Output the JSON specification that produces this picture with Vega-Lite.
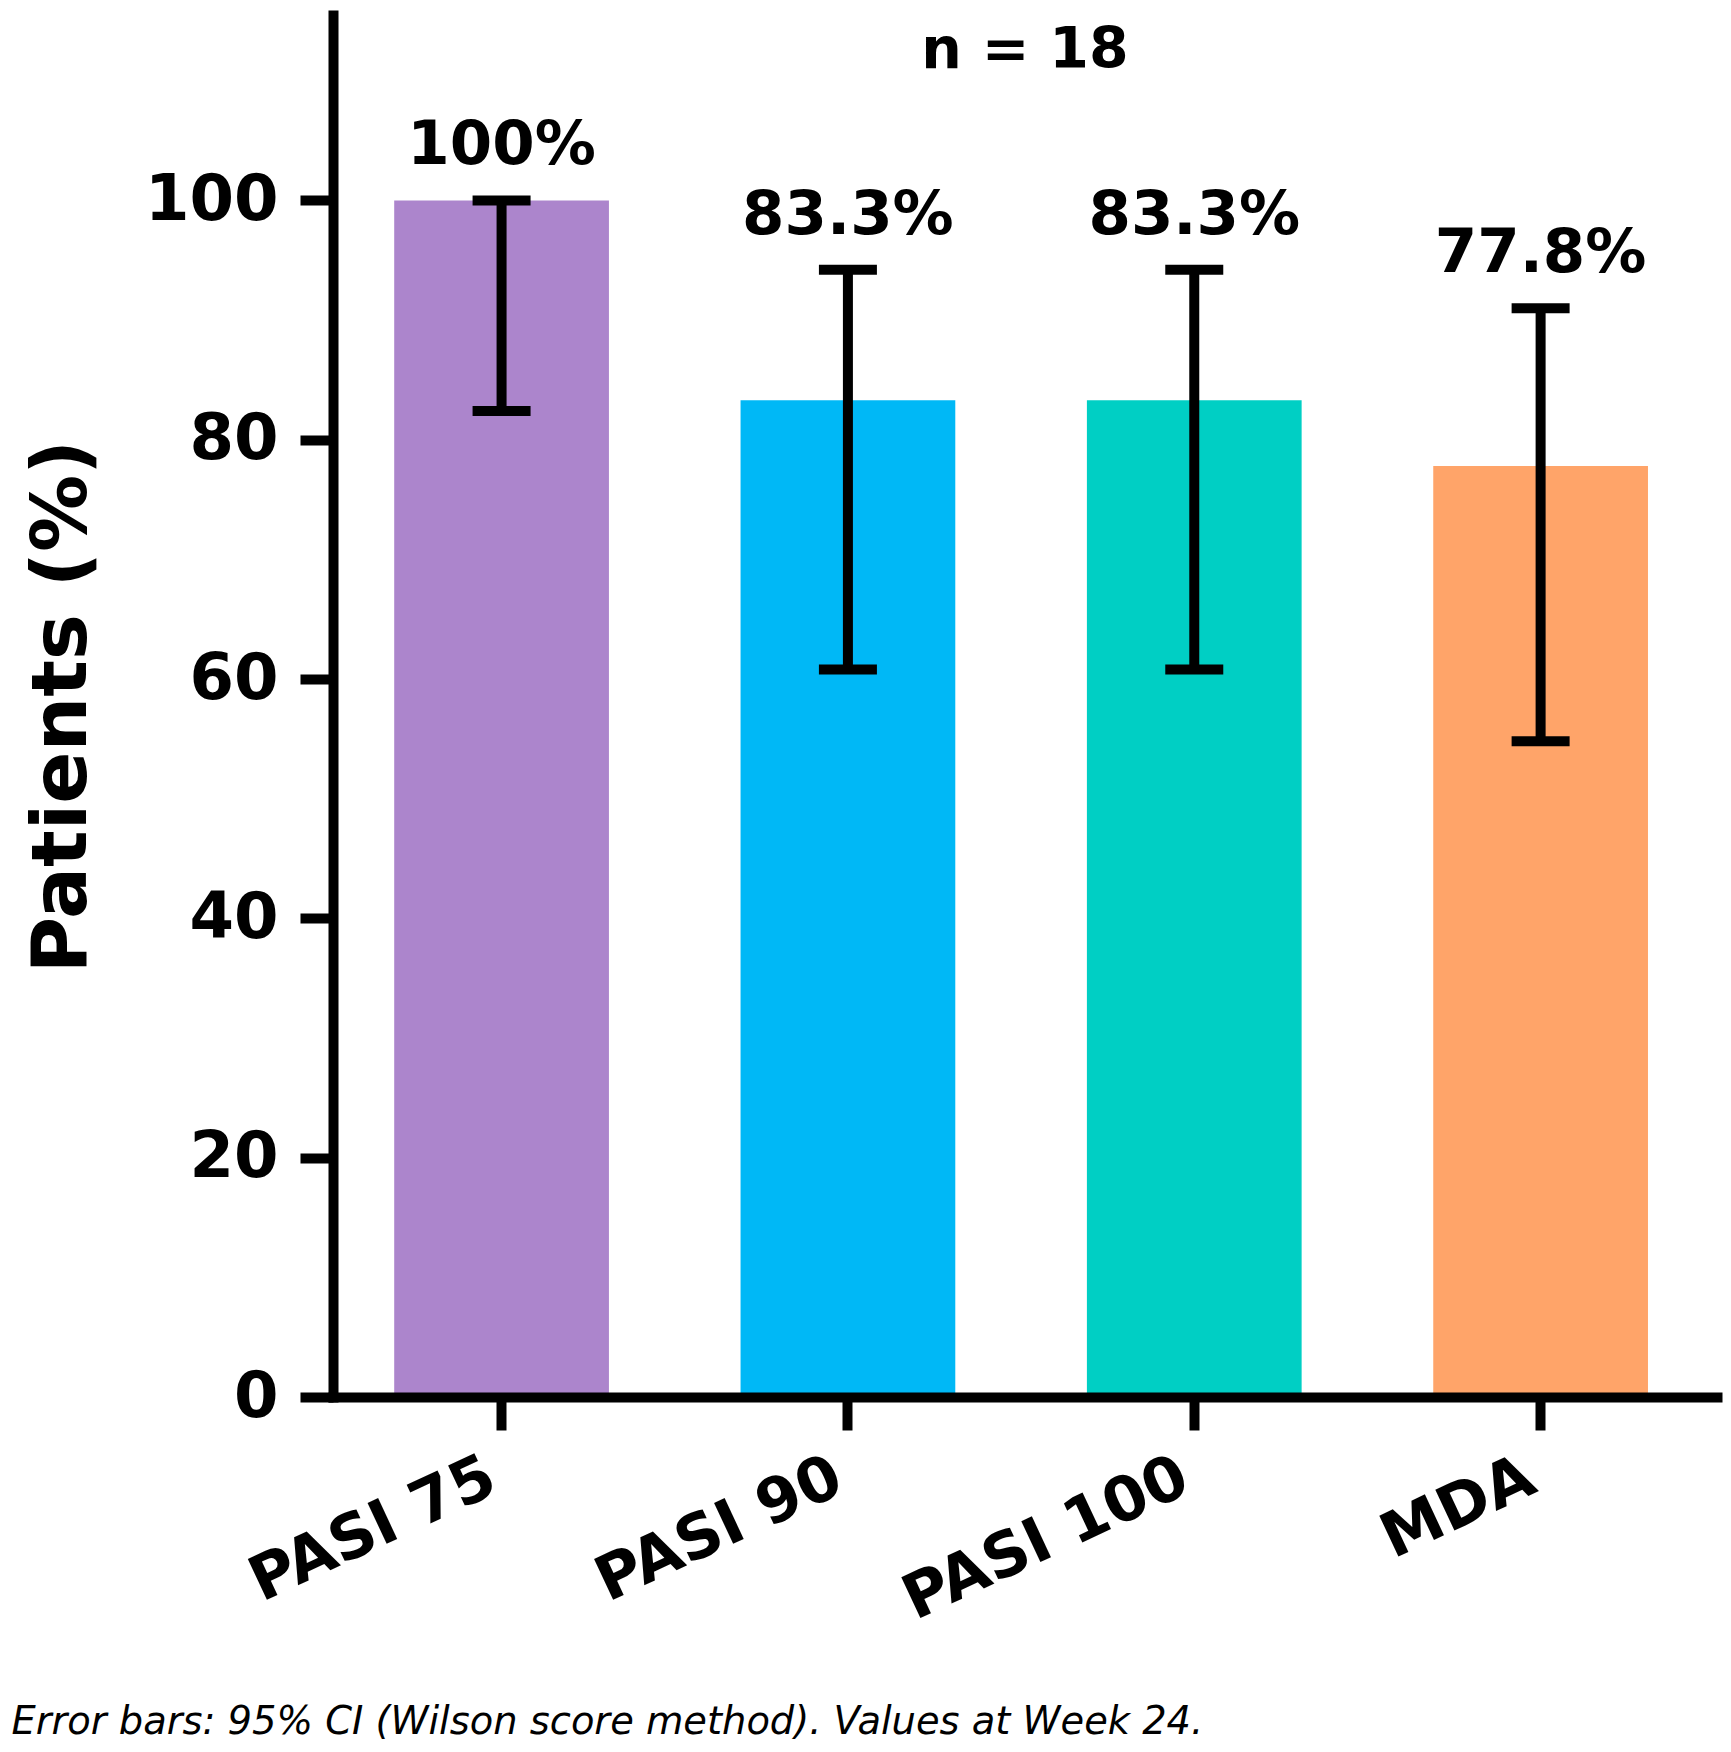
{
  "$schema": "https://vega.github.io/schema/vega-lite/v6.json",
  "width": 1384,
  "height": 1382,
  "autosize": {"type": "none"},
  "padding": {"left": 333, "top": 15, "right": 14, "bottom": 355},
  "background": "white",
  "config": {
    "view": {"stroke": null},
    "font": "DejaVu Sans"
  },
  "title": {
    "text": "n = 18",
    "orient": "top",
    "anchor": "middle",
    "frame": "group",
    "baseline": "alphabetic",
    "offset": -110,
    "font": "DejaVu Sans",
    "fontSize": 57,
    "fontWeight": "bold",
    "color": "black"
  },
  "data": {
    "values": [
      {"category": "PASI 75", "value": 100.0, "ci_low": 82.4, "ci_high": 100.0, "label": "100%"},
      {"category": "PASI 90", "value": 83.3, "ci_low": 60.8, "ci_high": 94.2, "label": "83.3%"},
      {"category": "PASI 100", "value": 83.3, "ci_low": 60.8, "ci_high": 94.2, "label": "83.3%"},
      {"category": "MDA", "value": 77.8, "ci_low": 54.8, "ci_high": 91.0, "label": "77.8%"}
    ]
  },
  "encoding": {
    "x": {
      "field": "category",
      "type": "nominal",
      "sort": ["PASI 75", "PASI 90", "PASI 100", "MDA"],
      "scale": {"paddingInner": 0.38, "paddingOuter": 0.188, "align": 0.47},
      "axis": {
        "title": "Error bars: 95% CI (Wilson score method). Values at Week 24.",
        "titleX": -322,
        "titleY": 336,
        "titleAlign": "left",
        "titleAnchor": "start",
        "titleBaseline": "alphabetic",
        "titleFont": "DejaVu Sans",
        "titleFontSize": 38.4,
        "titleFontStyle": "italic",
        "titleFontWeight": "normal",
        "titleColor": "black",
        "labelAngle": -25,
        "labelAlign": "right",
        "labelBaseline": "top",
        "labelPadding": 16,
        "labelOffset": -22,
        "labelFont": "DejaVu Sans",
        "labelFontSize": 62,
        "labelFontWeight": "bold",
        "labelColor": "black",
        "labelOverlap": false,
        "labelLimit": 0,
        "tickSize": 33,
        "tickWidth": 10,
        "tickColor": "black",
        "domainWidth": 10,
        "domainColor": "black",
        "domainCap": "square",
        "zindex": 1
      }
    }
  },
  "layer": [
    {
      "mark": {"type": "bar"},
      "encoding": {
        "y": {
          "field": "value",
          "type": "quantitative",
          "scale": {"domain": [0, 115.5], "nice": false, "zero": true},
          "axis": {
            "title": "Patients (%)",
            "titleFont": "DejaVu Sans",
            "titleFontSize": 77,
            "titleFontWeight": "bold",
            "titleColor": "black",
            "titlePadding": 43,
            "values": [0, 20, 40, 60, 80, 100],
            "labelFont": "DejaVu Sans",
            "labelFontSize": 64,
            "labelFontWeight": "bold",
            "labelColor": "black",
            "labelPadding": 22,
            "tickSize": 33,
            "tickWidth": 10,
            "tickColor": "black",
            "domainWidth": 10,
            "domainColor": "black",
            "domainCap": "square",
            "grid": false,
            "zindex": 1
          }
        },
        "color": {
          "field": "category",
          "type": "nominal",
          "scale": {
            "domain": ["PASI 75", "PASI 90", "PASI 100", "MDA"],
            "range": ["#AC85CC", "#00B8F6", "#00CFC4", "#FFA469"]
          },
          "legend": null
        }
      }
    },
    {
      "mark": {"type": "rule", "color": "black", "strokeWidth": 10},
      "encoding": {
        "y": {"field": "ci_low", "type": "quantitative"},
        "y2": {"field": "ci_high"}
      }
    },
    {
      "mark": {"type": "tick", "color": "black", "size": 58, "thickness": 10, "opacity": 1},
      "encoding": {
        "y": {"field": "ci_low", "type": "quantitative"}
      }
    },
    {
      "mark": {"type": "tick", "color": "black", "size": 58, "thickness": 10, "opacity": 1},
      "encoding": {
        "y": {"field": "ci_high", "type": "quantitative"}
      }
    },
    {
      "mark": {
        "type": "text",
        "baseline": "alphabetic",
        "align": "center",
        "dy": -36,
        "font": "DejaVu Sans",
        "fontSize": 61,
        "fontWeight": "bold",
        "color": "black"
      },
      "encoding": {
        "y": {"field": "ci_high", "type": "quantitative"},
        "text": {"field": "label", "type": "nominal"}
      }
    }
  ]
}
